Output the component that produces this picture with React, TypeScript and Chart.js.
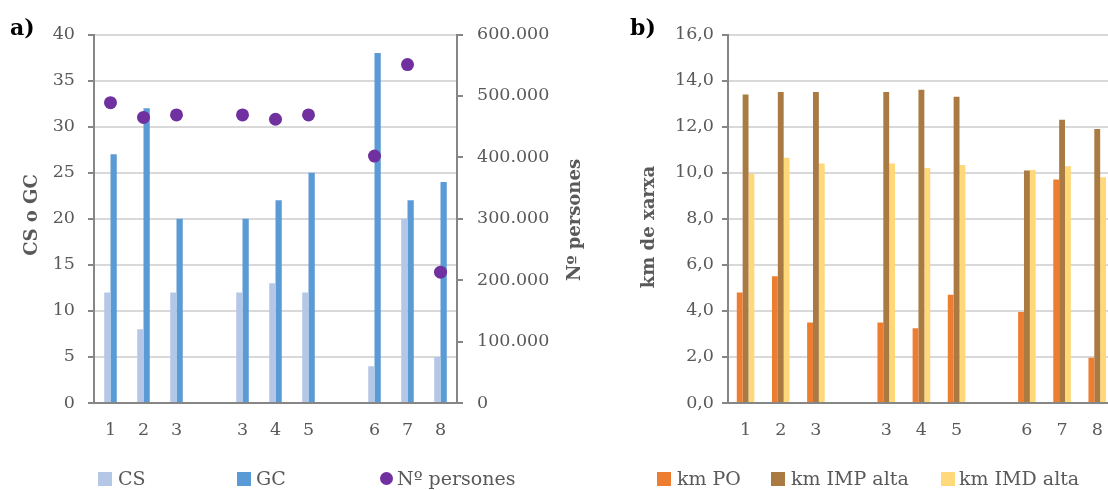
import { useEffect, useRef } from 'react';
import { Chart, registerables } from 'chart.js';

Chart.register(...registerables);

// ---- data ----
const categories = ['1', '2', '3', '', '3', '4', '5', '', '6', '7', '8'];
const csValues = [12, 8, 12, null, 12, 13, 12, null, 4, 20, 5];
const gcValues = [27, 32, 20, null, 20, 22, 25, null, 38, 22, 24];
const personsValues = [489000, 465000, 469000, null, 469000, 462000, 469000, null, 402000, 551000, 213000];

const kmPO = [4.8, 5.5, 3.5, null, 3.5, 3.25, 4.7, null, 3.95, 9.7, 1.96];
const kmIMP = [13.4, 13.5, 13.5, null, 13.5, 13.6, 13.3, null, 10.1, 12.3, 11.9];
const kmIMD = [9.95, 10.65, 10.4, null, 10.4, 10.2, 10.33, null, 10.12, 10.28, 9.8];

const leftTicksA = { min: 0, max: 40, step: 5 };
const rightTicksA = { min: 0, max: 600000, step: 100000 };
const ticksB = { min: 0, max: 16, step: 2 };

// ---- styles ----
const FONT = '"DejaVu Serif", serif';
const AXIS = '#868686';
const GRID = '#D9D9D9';
const TEXT = '#595959';
const TICK_SIZE = 17.5;

const C_CS = '#B4C7E7';
const C_GC = '#5B9BD5';
const C_PERS = '#7030A0';
const C_PO = '#ED7D31';
const C_IMP = '#A97A42';
const C_IMD = '#FFD87A';

function fmtThousands(v: number) {
  return Math.round(v).toString().replace(/\B(?=(\d{3})+(?!\d))/g, '.');
}

const tickFont = { family: FONT, size: TICK_SIZE };

function xScale() {
  return {
    grid: { display: false, drawTicks: false },
    border: { display: true, color: AXIS, width: 2 },
    ticks: { color: TEXT, font: tickFont, padding: 17, maxRotation: 0, autoSkip: false },
    afterFit: (s: any) => { s.height = 87; },
  };
}

function VTitle({ text, cx, cy }: { text: string; cx: number; cy: number }) {
  return (
    <div
      style={{
        position: 'absolute', left: cx, top: cy,
        transform: 'translate(-50%,-50%) rotate(-90deg)',
        whiteSpace: 'nowrap', font: `bold 18px ${FONT}`, color: TEXT, lineHeight: '22px',
      }}
    >{text}</div>
  );
}

function LegendItem({ x, tx, color, text, round }: { x: number; tx: number; color: string; text: string; round?: boolean }) {
  return (
    <>
      <div style={{ position: 'absolute', left: x, top: round ? 472 : 472, width: round ? 13 : 14, height: round ? 13 : 14, background: color, borderRadius: round ? '50%' : 0 }} />
      <div style={{ position: 'absolute', left: tx, top: 469, font: `19px ${FONT}`, lineHeight: '19px', color: TEXT, whiteSpace: 'nowrap' }}>{text}</div>
    </>
  );
}

export default function App() {
  const refA = useRef<HTMLCanvasElement>(null);
  const refB = useRef<HTMLCanvasElement>(null);

  useEffect(() => {
    const chartA = new Chart(refA.current!, {
      type: 'bar',
      data: {
        labels: categories,
        datasets: [
          { type: 'line', label: 'Nº persones', data: personsValues, yAxisID: 'y1', showLine: false, pointRadius: 6.5, pointBackgroundColor: C_PERS, pointBorderWidth: 0, borderColor: C_PERS, order: -1 } as any,
          { type: 'bar', label: 'CS', data: csValues, backgroundColor: C_CS, yAxisID: 'y', barPercentage: 1, categoryPercentage: 0.38 },
          { type: 'bar', label: 'GC', data: gcValues, backgroundColor: C_GC, yAxisID: 'y', barPercentage: 1, categoryPercentage: 0.38 },
        ],
      },
      options: {
        responsive: false,
        animation: false,
        layout: { padding: { top: 34.5, left: 0, right: 0, bottom: 0 } },
        plugins: { legend: { display: false }, tooltip: { enabled: false } },
        scales: {
          x: xScale() as any,
          y: {
            position: 'left', min: leftTicksA.min, max: leftTicksA.max,
            ticks: { stepSize: leftTicksA.step, color: TEXT, font: tickFont, padding: 13 },
            grid: { color: GRID, lineWidth: 2, tickColor: AXIS, tickLength: 6, tickWidth: 2 },
            border: { display: true, color: AXIS, width: 2 },
            afterFit: (s: any) => { s.width = 94; },
          } as any,
          y1: {
            position: 'right', min: rightTicksA.min, max: rightTicksA.max,
            ticks: { stepSize: rightTicksA.step, color: TEXT, font: tickFont, padding: 14, callback: (v: any) => fmtThousands(Number(v)) },
            grid: { drawOnChartArea: false, tickColor: AXIS, tickLength: 6, tickWidth: 2, lineWidth: 2 },
            border: { display: true, color: AXIS, width: 2 },
            afterFit: (s: any) => { s.width = 143; },
          } as any,
        },
      },
    });

    const chartB = new Chart(refB.current!, {
      type: 'bar',
      data: {
        labels: categories,
        datasets: [
          { label: 'km PO', data: kmPO, backgroundColor: C_PO, barPercentage: 1, categoryPercentage: 0.5 },
          { label: 'km IMP alta', data: kmIMP, backgroundColor: C_IMP, barPercentage: 1, categoryPercentage: 0.5 },
          { label: 'km IMD alta', data: kmIMD, backgroundColor: C_IMD, barPercentage: 1, categoryPercentage: 0.5 },
        ],
      },
      options: {
        responsive: false,
        animation: false,
        layout: { padding: { top: 34.5, left: 0, right: 4.2, bottom: 0 } },
        plugins: { legend: { display: false }, tooltip: { enabled: false } },
        scales: {
          x: xScale() as any,
          y: {
            position: 'left', min: ticksB.min, max: ticksB.max,
            ticks: { stepSize: ticksB.step, color: TEXT, font: tickFont, padding: 8, callback: (v: any) => Number(v).toFixed(1).replace('.', ',') },
            grid: { color: GRID, lineWidth: 2, tickColor: AXIS, tickLength: 6, tickWidth: 2 },
            border: { display: true, color: AXIS, width: 2 },
            afterFit: (s: any) => { s.width = 128; },
          } as any,
        },
      },
    });

    return () => {
      chartA.destroy();
      chartB.destroy();
    };
  }, []);

  return (
    <div style={{ position: 'absolute', left: 0, top: 0, width: 1108, height: 490, overflow: 'hidden', background: '#fff', fontFamily: FONT }}>
      <div style={{ position: 'absolute', left: 0, top: 0, width: 600, height: 490 }}>
        <canvas ref={refA} width={600} height={490} style={{ display: 'block' }} />
      </div>
      <div style={{ position: 'absolute', left: 600, top: 0, width: 520, height: 490 }}>
        <canvas ref={refB} width={520} height={490} style={{ display: 'block' }} />
      </div>

      <div style={{ position: 'absolute', left: 10, top: 16, font: `bold 22px ${FONT}`, lineHeight: '22px', color: '#000' }}>a)</div>
      <div style={{ position: 'absolute', left: 630, top: 16, font: `bold 22px ${FONT}`, lineHeight: '22px', color: '#000' }}>b)</div>

      <VTitle text="CS o GC" cx={31} cy={215} />
      <VTitle text="Nº persones" cx={574} cy={220} />
      <VTitle text="km de xarxa" cx={648} cy={227} />

      <LegendItem x={98} tx={118} color={C_CS} text="CS" />
      <LegendItem x={237} tx={256} color={C_GC} text="GC" />
      <LegendItem x={380} tx={397} color={C_PERS} text="Nº persones" round />

      <LegendItem x={657} tx={677} color={C_PO} text="km PO" />
      <LegendItem x={771} tx={791} color={C_IMP} text="km IMP alta" />
      <LegendItem x={941} tx={959} color={C_IMD} text="km IMD alta" />
    </div>
  );
}
